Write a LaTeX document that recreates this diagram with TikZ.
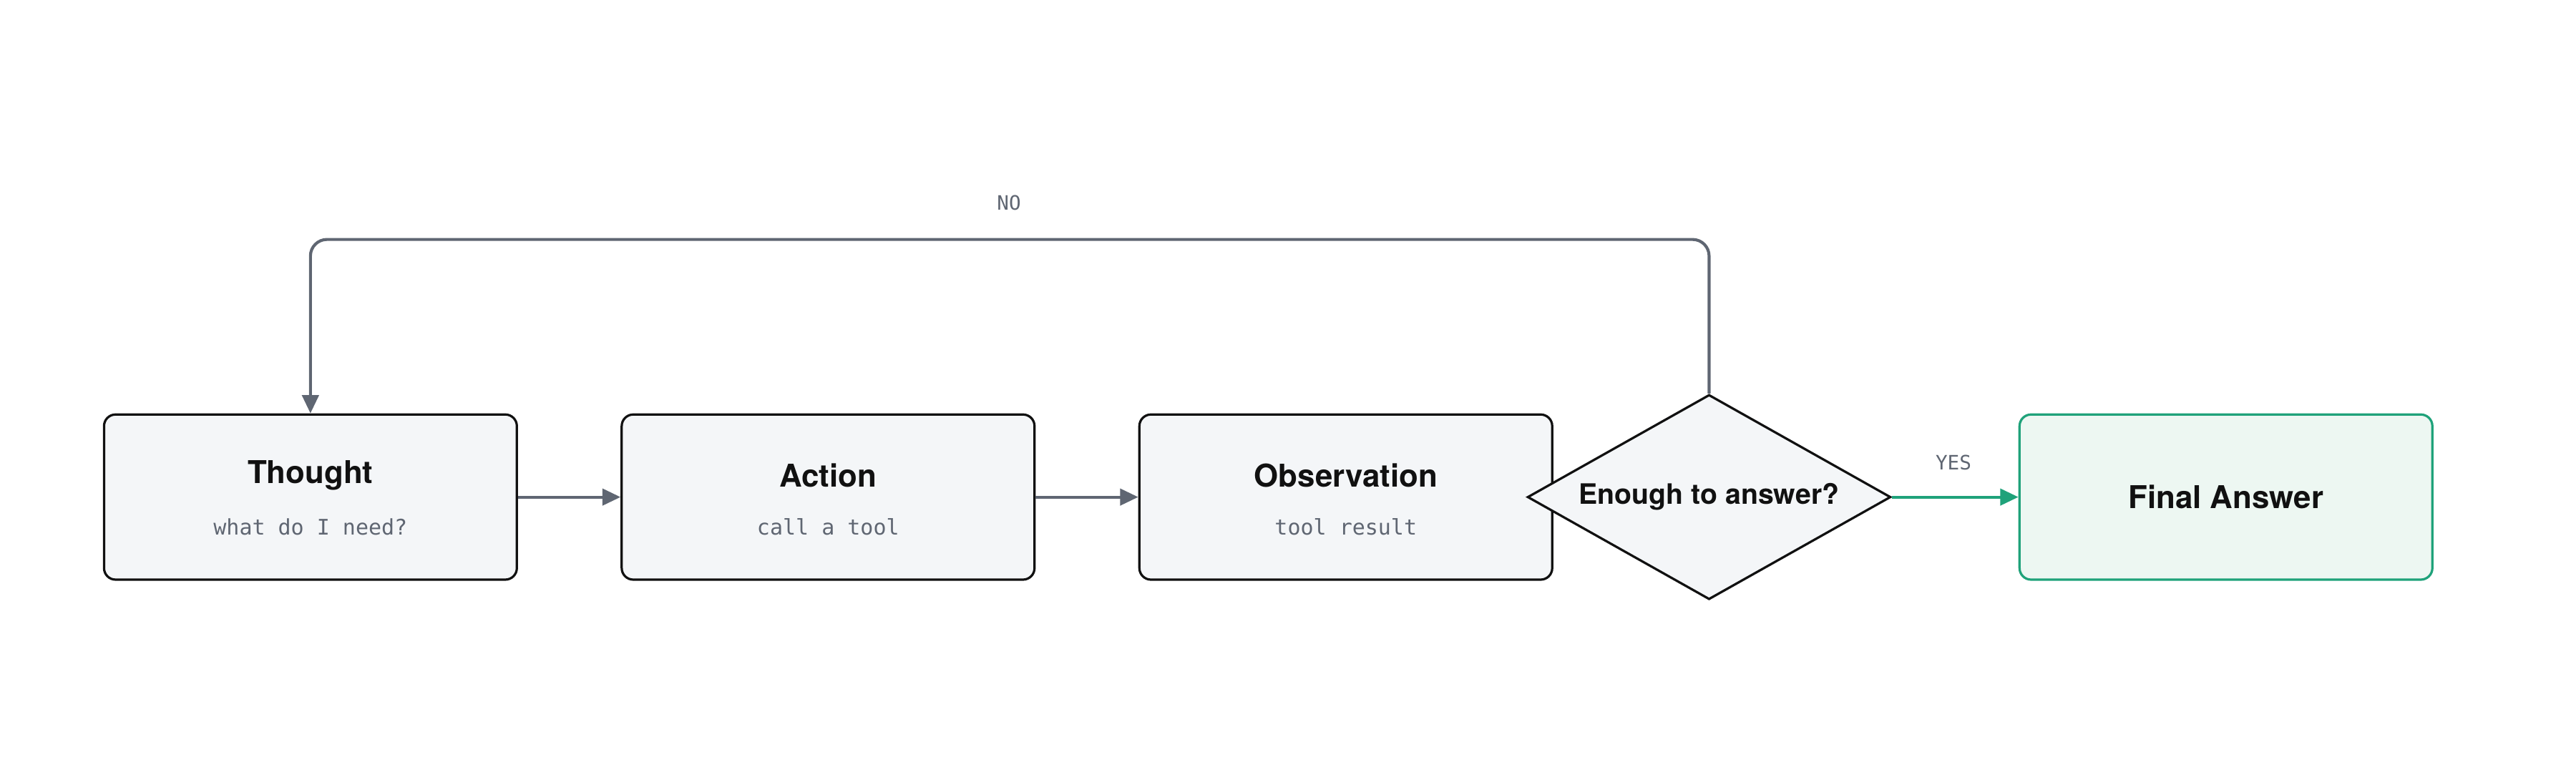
\documentclass[tikz,border=0pt]{standalone}
\usepackage{fontspec}
\setmainfont{TeX Gyre Heros}
\newfontfamily\monof{DejaVu Sans Mono}
\usetikzlibrary{shapes.geometric,arrows.meta}
\definecolor{boxfill}{HTML}{F4F6F8}
\definecolor{edge}{HTML}{5F6672}
\definecolor{grn}{HTML}{1FA27A}
\definecolor{grnfill}{HTML}{EDF7F2}
\definecolor{ink}{HTML}{111111}
\begin{document}
\begin{tikzpicture}[x=1pt,y=1pt,
  box/.style={draw=ink,line width=1.4pt,fill=boxfill,rounded corners=7pt,minimum width=250pt,minimum height=100pt,inner sep=0pt},
  ttl/.style={font=\fontsize{19}{22}\selectfont\bfseries,text=ink},
  sub/.style={font=\monof\fontsize{13}{15}\selectfont,text=edge},
  conn/.style={draw=edge,line width=1.8pt,-{Triangle[length=11pt,width=10pt]}},
  lbl/.style={font=\monof\fontsize{12}{14}\selectfont,text=edge}]
\useasboundingbox (0,0) rectangle (1560,469);
\node[box] (t) at (188,168) {};
\node[box] (a) at (501.5,168) {};
\node[box] (o) at (815,168) {};
\node[box,draw=grn,fill=grnfill] (f) at (1348,168) {};
\node[ttl] at (188,181) {Thought};
\node[sub] at (188,150) {what do I need?};
\node[ttl] at (501.5,181) {Action};
\node[sub] at (501.5,150) {call a tool};
\node[ttl] at (815,181) {Observation};
\node[sub] at (815,150) {tool result};
\node[ttl] at (1348,168) {Final Answer};
\node[diamond,draw=ink,line width=1.4pt,fill=boxfill,minimum width=220pt,minimum height=124pt,inner sep=0pt,aspect=1.77] (d) at (1035,168) {};
\node[font=\fontsize{17}{20}\selectfont\bfseries,text=ink] at (1035,168) {Enough to answer?};
\draw[conn] (t.east) -- (a.west);
\draw[conn] (a.east) -- (o.west);
\draw[conn,draw=grn,-{Triangle[length=11pt,width=10pt,fill=grn]}] (d.east) -- (f.west);
\draw[conn,rounded corners=10pt] (d.north) -- (1035,324) -- (188,324) -- (t.north);
\node[lbl] at (611,346) {NO};
\node[lbl] at (1183,189) {YES};
\end{tikzpicture}
\end{document}
